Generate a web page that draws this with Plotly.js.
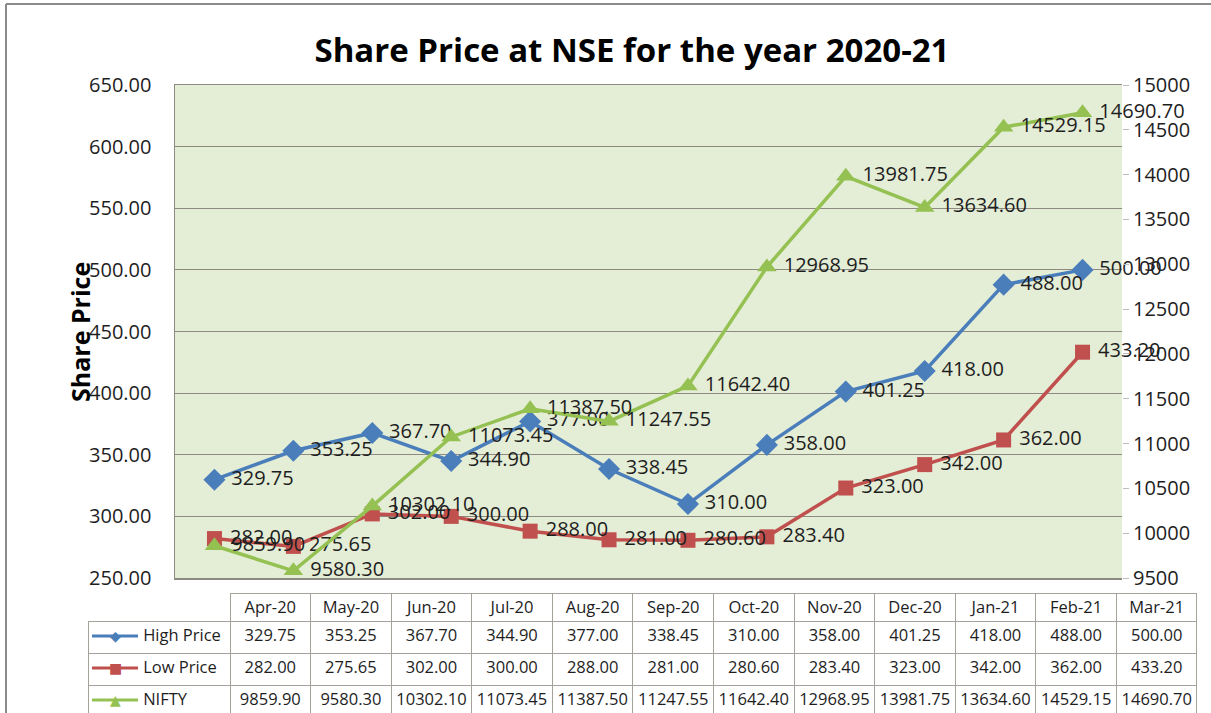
<!DOCTYPE html>
<html>
<head>
<meta charset="utf-8">
<script src="https://cdn.plot.ly/plotly-3.0.1.min.js"></script>
<style>
html, body { margin:0; padding:0; overflow:hidden; background:#ffffff; }
#chart { width:1211px; height:720px; }
</style>
</head>
<body>
<div id="chart"></div>
<script>
// ---- data ----
const months = ["Apr-20","May-20","Jun-20","Jul-20","Aug-20","Sep-20","Oct-20","Nov-20","Dec-20","Jan-21","Feb-21","Mar-21"];
const highPrice = [329.75,353.25,367.70,344.90,377.00,338.45,310.00,358.00,401.25,418.00,488.00,500.00];
const lowPrice  = [282.00,275.65,302.00,300.00,288.00,281.00,280.60,283.40,323.00,342.00,362.00,433.20];
const nifty     = [9859.90,9580.30,10302.10,11073.45,11387.50,11247.55,11642.40,12968.95,13981.75,13634.60,14529.15,14690.70];
const seriesNames = ["High Price","Low Price","NIFTY"];
const legendGlyphs = ["◆","■","▲"];
const chartTitle = "Share Price at NSE for the year 2020-21";
const yTitle = "Share Price";

// ---- style ----
const W = 1211, H = 720;
const FONT = "Open Sans, Noto Sans, sans-serif";
const cBlue = "#4a7ebb", cRed = "#c0504d", cGreen = "#94c152";
const seriesColors = [cBlue, cRed, cGreen];
const txt = "#1e1e1e";
const grid = "#8e8a82";
const NB = "\u00a0";

const fmt2 = v => v.toFixed(2);
const lbl = v => NB + fmt2(v);

const common = {
  mode: "lines+markers+text",
  textposition: "middle right",
  cliponaxis: false,
  textfont: {family: FONT, size: 20, color: txt},
  hoverinfo: "skip"
};

const tHigh = Object.assign({}, common, {
  x: months, y: highPrice, name: seriesNames[0], xaxis: "x", yaxis: "y",
  text: highPrice.map(lbl),
  line: {color: cBlue, width: 3.5},
  marker: {symbol: "diamond", size: 17, color: cBlue}
});
const tLow = Object.assign({}, common, {
  x: months, y: lowPrice, name: seriesNames[1], xaxis: "x", yaxis: "y",
  text: lowPrice.map(lbl),
  line: {color: cRed, width: 3.5},
  marker: {symbol: "square", size: 15, color: cRed}
});
const tNifty = Object.assign({}, common, {
  x: months, y: nifty, name: seriesNames[2], xaxis: "x", yaxis: "y2",
  text: nifty.map(lbl),
  line: {color: cGreen, width: 3.5},
  marker: {symbol: "triangle-up", size: 17, color: cGreen}
});

// ---- data table beneath chart ----
const TBL_TOP = 593, HDR_H = 28, ROW_H = 32, TBL_L = 88, TBL_R = 1197, KEY_W = 142;
const KEY_X0 = 92, KEY_X1 = 138;
const tableCols = [seriesNames.map(n => NB.repeat(11) + n.replace(/ /g, NB))];
for (let i = 0; i < months.length; i++) {
  tableCols.push([fmt2(highPrice[i]), fmt2(lowPrice[i]), fmt2(nifty[i])]);
}
const tableLine = "#a5a29b";
const tTable = {
  type: "table",
  domain: {x: [TBL_L/W, TBL_R/W], y: [0, (H-TBL_TOP)/H]},
  columnwidth: [KEY_W].concat(months.map(() => (TBL_R-TBL_L-KEY_W)/months.length)),
  header: {
    values: [""].concat(months),
    align: "center",
    height: HDR_H,
    fill: {color: "#ffffff"},
    line: {color: ["rgba(255,255,255,0)"].concat(months.map(() => tableLine)), width: 1},
    font: {family: FONT, size: 16.5, color: txt}
  },
  cells: {
    values: tableCols,
    align: ["left"].concat(months.map(() => "center")),
    height: ROW_H,
    fill: {color: "#ffffff"},
    line: {color: tableLine, width: 1},
    font: {family: FONT, size: 16.5, color: txt}
  }
};

// legend keys drawn inside the first table column
const rowMid = i => (H - (TBL_TOP + HDR_H + ROW_H*i + ROW_H/2 - 1))/H;
const keyLines = seriesNames.map((n, i) => ({
  type: "line", xref: "paper", yref: "paper",
  x0: KEY_X0/W, x1: KEY_X1/W, y0: rowMid(i), y1: rowMid(i),
  line: {color: seriesColors[i], width: 3}
}));
const keyGlyphs = seriesNames.map((n, i) => ({
  text: legendGlyphs[i],
  xref: "paper", yref: "paper",
  x: (KEY_X0 + KEY_X1)/2/W, y: rowMid(i),
  xanchor: "center", yanchor: "middle", showarrow: false,
  font: {family: "DejaVu Sans", size: 14, color: seriesColors[i]}
}));

const layout = {
  width: W, height: H,
  margin: {l: 0, r: 0, t: 0, b: 0},
  paper_bgcolor: "#ffffff",
  plot_bgcolor: "#e4edd6",
  showlegend: false,
  title: {
    text: "<b>" + chartTitle + "</b>",
    font: {family: FONT, size: 33, color: "#000000"},
    x: 632/W, xanchor: "center", xref: "paper",
    y: 1 - 50/H, yanchor: "middle", yref: "container"
  },
  xaxis: {
    domain: [175/W, 1122/W],
    type: "category",
    range: [-0.5, months.length - 0.5],
    showticklabels: false,
    ticks: "",
    showgrid: false,
    showline: true, linecolor: grid, linewidth: 1.5, mirror: true,
    zeroline: false, fixedrange: true
  },
  yaxis: {
    domain: [(H-578)/H, (H-85)/H],
    range: [250, 650],
    dtick: 50,
    tickformat: ".2f",
    tickfont: {family: FONT, size: 20, color: txt},
    ticks: "", ticklabelstandoff: 18,
    showgrid: true, gridcolor: grid, gridwidth: 1.2,
    showline: true, linecolor: grid, linewidth: 1.5,
    zeroline: false, fixedrange: true
  },
  yaxis2: {
    overlaying: "y", side: "right", anchor: "x",
    range: [9500, 15000],
    dtick: 500,
    tickformat: "d",
    tickfont: {family: FONT, size: 20, color: txt},
    ticks: "outside", ticklen: 6, tickcolor: "#bdbdbd",
    showgrid: false, showline: false, zeroline: false, fixedrange: true
  },
  annotations: [{
    text: "<b>" + yTitle + "</b>",
    xref: "paper", yref: "paper",
    x: 80/W, y: (H-332)/H,
    xanchor: "center", yanchor: "middle",
    textangle: -90, showarrow: false,
    font: {family: FONT, size: 25, color: "#000000"}
  }].concat(keyGlyphs),
  shapes: [
    {type: "line", xref: "paper", yref: "paper", x0: 6/W, x1: 1, y0: (H-4)/H, y1: (H-4)/H, line: {color: "#8a8a8a", width: 2}},
    {type: "line", xref: "paper", yref: "paper", x0: 6/W, x1: 6/W, y0: 0, y1: (H-4)/H, line: {color: "#8a8a8a", width: 2}}
  ].concat(keyLines)
};

Plotly.newPlot("chart", [tHigh, tLow, tNifty, tTable], layout, {displayModeBar: false, staticPlot: true});
</script>
</body>
</html>
